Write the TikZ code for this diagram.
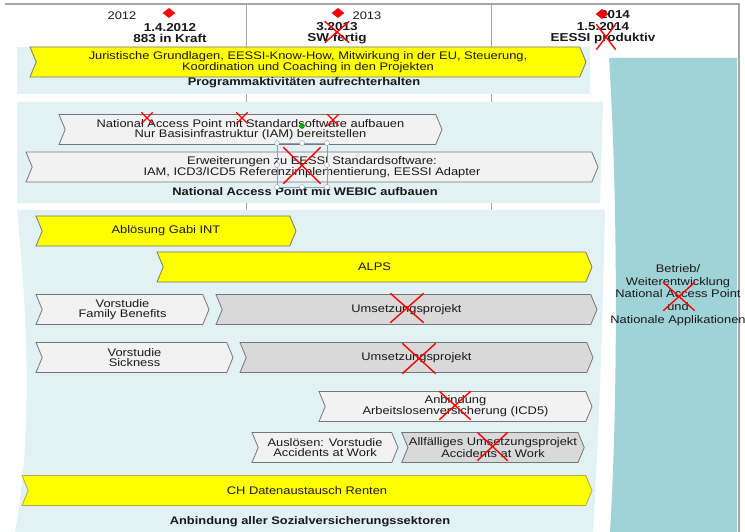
\documentclass[tikz,border=0pt]{standalone}
\definecolor{bandblue}{RGB}{226, 242, 244}
\definecolor{opsteal}{RGB}{160, 211, 216}
\definecolor{baryellow}{RGB}{255, 255, 0}
\definecolor{barlight}{RGB}{242, 242, 242}
\definecolor{bargrey}{RGB}{217, 217, 217}
\definecolor{chevgrey}{RGB}{118, 118, 118}
\definecolor{framegrey}{RGB}{165, 165, 165}
\definecolor{handleblue}{RGB}{140, 160, 185}
\usepackage{fontspec}
\setmainfont{Liberation Sans}[FakeStretch=1.17]
\usetikzlibrary{shapes.symbols, shapes.misc, shapes.geometric, positioning}

\begin{document}
\begin{tikzpicture}[x=1pt, y=-1pt,
  font=\fontsize{11}{10}\selectfont,
  phase/.style={shape=signal, signal from=west, signal to=east, signal pointer angle=135, draw=chevgrey, line width=0.8pt, align=center, inner sep=1pt, minimum height=30pt, text=black!90},
  headline/.style={font=\fontsize{11}{10}\selectfont\bfseries, text=black!90, align=center},
  milestone/.style={font=\fontsize{11.5}{11}\selectfont\bfseries, text=black!90, align=center},
  xmark/.style={cross out, draw=red, line width=1.4pt, inner sep=0pt}]
\useasboundingbox (0,0) rectangle (745,532);

% frame and year dividers
\draw[framegrey] (246,4) -- (246,532);
\draw[framegrey] (491,4) -- (491,532);
\draw[framegrey, line width=1.5pt] (5,4) -- (739,4) -- (739,532);

% background bands
\fill[bandblue] (17,47) rectangle (590,94);
\fill[bandblue] (17,102) -- (603,102) -- (600,203) -- (17,203) -- cycle;
\fill[bandblue] (17,210) -- (605,210) .. controls (602,350) and (598,450) .. (593,532) -- (15,532) .. controls (34,430) and (26,300) .. (17,210) -- cycle;
\fill[opsteal] (609,58) -- (737,58) -- (737,532) -- (610,532) .. controls (618,400) and (618,200) .. (609,58) -- cycle;

% milestones
\node[text=black!90] (y12) at (122,16) {2012};
\node[diamond, fill=red, inner sep=0pt, minimum width=13pt, minimum height=10pt] (m12) at (169,13) {};
\node[milestone] (t12) at (170,33) {1.4.2012\\883 in Kraft};
\node[text=black!90] (y13) at (367,16) {2013};
\node[diamond, fill=red, inner sep=0pt, minimum width=13pt, minimum height=10pt] (m13) at (338,13) {};
\node[milestone] (t13) at (337,33) {3.2013\\SW fertig};
\node[milestone] (y14) at (615,15) {2014};
\node[diamond, fill=red, inner sep=0pt, minimum width=13pt, minimum height=10pt] (m14) at (602,14) {};
\node[milestone] (t14) at (603,33) {1.5.2014\\EESSI produktiv};

% Programmaktivitaeten
\node[phase, fill=baryellow, minimum width=556pt] (jur) at (308,62) {Juristische Grundlagen, EESSI-Know-How, Mitwirkung in der EU, Steuerung,\\Koordination und Coaching in den Projekten};
\node[headline] (prog) at (304,83) {Programmaktivitäten aufrechterhalten};

% National Access Point
\node[phase, fill=barlight, minimum width=383pt] (nap) at (250.5,129.5) {National Access Point mit Standardsoftware aufbauen\\Nur Basisinfrastruktur (IAM) bereitstellen};
\node[phase, fill=barlight, minimum width=572pt] (erw) at (312,167) {Erweiterungen zu EESSI Standardsoftware:\\IAM, ICD3/ICD5 Referenzimplementierung, EESSI Adapter};
\node[headline] (webic) at (305,192) {National Access Point mit WEBIC aufbauen};

% Sozialversicherungssektoren
\node[phase, fill=baryellow, minimum width=260pt] (gabi) at (166,231) {Ablösung Gabi INT};
\node[phase, fill=baryellow, minimum width=435pt] (alps) at (374.5,267) {ALPS};
\node[phase, fill=barlight, minimum width=173pt] (vfb) at (122.5,309.5) {Vorstudie\\Family Benefits};
\node[phase, fill=bargrey, minimum width=381pt] (ums1) at (406.5,309.5) {Umsetzungsprojekt};
\node[phase, fill=barlight, minimum width=197pt] (vsick) at (134.5,357.5) {Vorstudie\\Sickness};
\node[phase, fill=bargrey, minimum width=353pt] (ums2) at (416.5,357.5) {Umsetzungsprojekt};
\node[phase, fill=barlight, minimum width=273pt] (alv) at (455.5,406.5) {Anbindung\\Arbeitslosenversicherung (ICD5)};
\node[phase, fill=barlight, minimum width=146pt] (awork) at (325,447.5) {Auslösen: Vorstudie\\Accidents at Work};
\node[phase, fill=bargrey, minimum width=180pt] (allf) at (493,447.5) {Allfälliges Umsetzungsprojekt\\Accidents at Work};
\node[phase, fill=baryellow, draw=chevgrey!60!baryellow, minimum width=570pt] (ch) at (307,490.5) {CH Datenaustausch Renten};
\node[headline] (sozial) at (310,522) {Anbindung aller Sozialversicherungssektoren};

% Betrieb
\node[align=center, font=\fontsize{11}{12.7}\selectfont, text=black!90] (betrieb) at (678,295) {Betrieb/\\Weiterentwicklung\\National Access Point\\und\\Nationale Applikationen};

% selection frame
\draw[handleblue] (277,143) rectangle (327,187);
\foreach \hx/\hy in {277/143, 302/143, 327/143, 277/165, 327/165, 277/187, 302/187, 327/187}
  \filldraw[draw=handleblue, fill=white] (\hx,\hy) circle (2.5pt);
\filldraw[draw=green!50!black, fill=green!70!black] (302,126) circle (2.5pt);

% red crosses
\node[xmark, minimum width=23pt, minimum height=20pt] (x13) at (337,32) {};
\node[xmark, minimum width=18pt, minimum height=24pt] (x14) at (606,37) {};
\node[xmark, minimum width=10pt, minimum height=10pt] (xnap1) at (147,118) {};
\node[xmark, minimum width=10pt, minimum height=10pt] (xnap2) at (242,118) {};
\node[xmark, minimum width=10pt, minimum height=10pt] (xnap3) at (333,120) {};
\node[xmark, minimum width=36pt, minimum height=35pt] (xerw) at (302,165.5) {};
\node[xmark, minimum width=32pt, minimum height=28pt] (xums1) at (407,308) {};
\node[xmark, minimum width=32pt, minimum height=29pt] (xums2) at (419,358.5) {};
\node[xmark, minimum width=30pt, minimum height=27pt] (xalv) at (455,405.5) {};
\node[xmark, minimum width=29pt, minimum height=27pt] (xallf) at (492.5,446.5) {};
\node[xmark, minimum width=30pt, minimum height=27pt] (xbet) at (679,296.5) {};
\end{tikzpicture}
\end{document}
